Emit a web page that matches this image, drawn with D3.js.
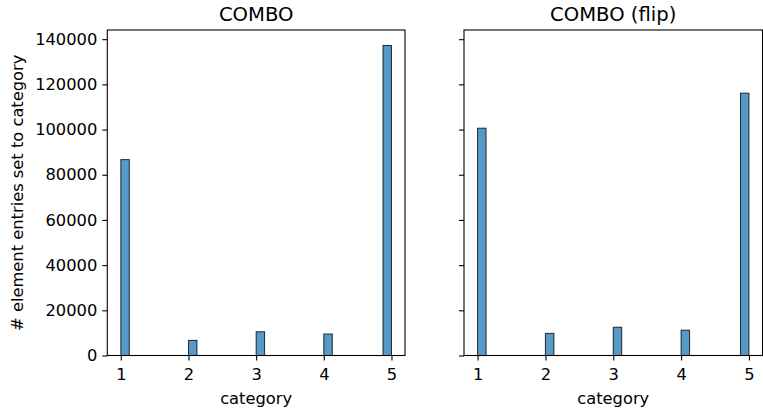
<!DOCTYPE html>
<html><head><meta charset="utf-8">
<script src="https://cdn.jsdelivr.net/npm/d3@7"></script>
<style>body{margin:0;background:#fff}svg{display:block}text{font-family:"DejaVu Sans",sans-serif;fill:#000}</style>
</head><body><svg id="c" width="763" height="411"></svg>
<script>
const categories = [1, 2, 3, 4, 5];
const comboValues = [86700, 6700, 10500, 9500, 137200];
const comboFlipValues = [100600, 9800, 12500, 11200, 116100];
const yTicks = [0, 20000, 40000, 60000, 80000, 100000, 120000, 140000];
const panelTitles = ["COMBO", "COMBO (flip)"];
const nBins = 32;

(function () {
const svg = d3.select("#c");
const plotTop = 30, plotBottom = 355.5;
const panels = [
  {x0: 107.3, x1: 405, values: comboValues, title: panelTitles[0], labels: true},
  {x0: 464, x1: 762.5, values: comboFlipValues, title: panelTitles[1], labels: false}
];
const lo = d3.min(categories), hi = d3.max(categories);
const binW = (hi - lo) / nBins;
const ymax = d3.max([...comboValues, ...comboFlipValues]) * 1.05;
const y = d3.scaleLinear().domain([0, ymax]).range([plotBottom, plotTop]);

panels.forEach(p => {
  const pad = (hi - lo) * 0.05;
  const x = d3.scaleLinear().domain([lo - pad, hi + pad]).range([p.x0, p.x1]);
  const g = svg.append("g");
  g.selectAll("rect.bar").data(categories.map((c, i) => ({c, v: p.values[i]})))
    .enter().append("rect").attr("class", "bar")
    .attr("x", d => x(d.c === hi ? d.c - binW : d.c))
    .attr("width", x(lo + binW) - x(lo))
    .attr("y", d => y(d.v)).attr("height", d => y(0) - y(d.v))
    .attr("fill", "#1f77b4").attr("fill-opacity", 0.75)
    .attr("stroke", "#000").attr("stroke-opacity", 0.8).attr("stroke-width", 1);

  const xa = g.append("g").attr("transform", `translate(0,${plotBottom})`)
    .call(d3.axisBottom(x).tickValues(categories).tickFormat(d3.format("d")).tickSizeOuter(0).tickSize(5).tickPadding(7.5));
  const ya = g.append("g").attr("transform", `translate(${p.x0},0)`)
    .call(d3.axisLeft(y).tickValues(yTicks).tickFormat(p.labels ? d3.format("d") : () => "").tickSizeOuter(0).tickSize(5).tickPadding(5));
  [xa, ya].forEach(a => {
    a.select(".domain").remove();
    a.selectAll("line").attr("stroke", "#000").attr("stroke-width", 1.1);
    a.selectAll("text").style("font-size", "16.3px").style("font-family", "DejaVu Sans");
  });
  g.append("rect").attr("x", p.x0).attr("y", plotTop).attr("width", p.x1 - p.x0).attr("height", plotBottom - plotTop)
    .attr("fill", "none").attr("stroke", "#000").attr("stroke-width", 1.1);
  g.append("text").attr("x", (p.x0 + p.x1) / 2).attr("y", 21).attr("text-anchor", "middle")
    .style("font-size", "19.6px").text(p.title);
  g.append("text").attr("x", (p.x0 + p.x1) / 2).attr("y", 404).attr("text-anchor", "middle")
    .style("font-size", "16.3px").text("category");
});
svg.append("text").attr("transform", `translate(23,${(plotTop + plotBottom) / 2}) rotate(-90)`)
  .attr("text-anchor", "middle").style("font-size", "16.3px").text("# element entries set to category");
})();
</script></body></html>
